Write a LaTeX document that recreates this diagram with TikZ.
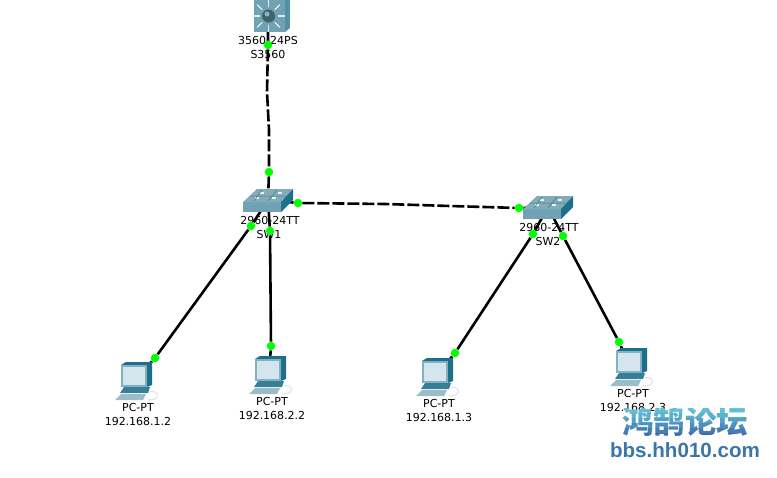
\documentclass[tikz,border=0pt]{standalone}
\usepackage{fontspec}
\setmainfont{DejaVu Sans}
\newfontfamily\wmlatin{Liberation Sans}[BoldFont={Liberation Sans Bold}]
\newfontfamily\wmcjk{Noto Sans CJK SC}
\usetikzlibrary{backgrounds}
\definecolor{lightgreen}{RGB}{0,255,0}
\definecolor{frontblue}{RGB}{112,162,180}
\definecolor{topblue}{RGB}{130,172,186}
\definecolor{sideblue}{RGB}{28,112,140}
\definecolor{screenblue}{RGB}{213,229,238}
\definecolor{wmtop}{RGB}{98,190,212}
\definecolor{wmbot}{RGB}{62,104,168}
\definecolor{wmsite}{RGB}{58,118,168}
\tikzset{
    devnode/.style={inner sep=0pt,minimum size=1pt},
    tag/.style={inner sep=0pt,font=\fontsize{11}{13}\selectfont},
    port/.style={fill=lightgreen,inner sep=0pt,minimum size=8.5pt,circle},
    link/.style={line width=2.6pt,black},
    trunk/.style={link,dash pattern=on 12pt off 3pt}
}
\newcommand{\switchicon}{%
    \fill[frontblue] (243,202) rectangle (281,212);
    \fill[topblue] (243,202)--(257,189)--(293,189)--(281,202)--cycle;
    \fill[sideblue] (281,202)--(293,189)--(293,200)--(281,212)--cycle;
    \foreach \a/\b in {260/193,278/193,255/198,272/198}{\draw[white!85!topblue,line width=1.2pt] (\a,\b)--++(4,0);}
    \draw[frontblue!70!black,line width=.5pt] (262,190)--(254,201) (277,190)--(268,201) (250,196)--(287,196);
}
\newcommand{\coreicon}{%
    \fill[frontblue] (254,0) rectangle (285,32);
    \fill[sideblue!35!frontblue] (285,0) rectangle (290,28);
    \fill[sideblue!35!frontblue] (285,32)--(290,28)--(285,28)--cycle;
    \foreach \a in {0,45,...,315}{\draw[white!80!frontblue,line width=1.4pt] (268.5,16)++(\a:9)--++(\a:7);}
    \fill[frontblue!60!black] (268.5,16) circle (6.5);
    \fill[frontblue!80!white] (267,14) circle (2.5);
}
\newcommand{\pcicon}{%
    \fill[sideblue] (-14,-15)--(-9,-18)--(17,-18)--(17,5)--(12,7)--(12,-15)--cycle;
    \fill[frontblue!85!white] (-14,-15) rectangle (12,7);
    \fill[screenblue] (-12,-13) rectangle (10,5);
    \fill[sideblue!70!frontblue] (-11,7)--(15,7)--(13,13)--(-15,13)--cycle;
    \fill[topblue!80!white] (-14,14)--(11,14)--(8,20)--(-20,20)--cycle;
    \draw[white!70!frontblue,line width=1pt] (15,12)..controls (22,10) and (25,16) .. (20,19)--(13,20);
}
\begin{document}
\begin{tikzpicture}[x=1pt,y=-1pt]
\useasboundingbox (0,0) rectangle (777,477);
% devices
\node[devnode] (core) at (268,16) {};
\node[devnode] (sw1) at (268,200) {};
\node[devnode] (sw2) at (548,207) {};
\node[devnode] (pc1) at (135,380) {};
\node[devnode] (pc2) at (269,374) {};
\node[devnode] (pc3) at (436,376) {};
\node[devnode] (pc4) at (630,366) {};
\coordinate (bendA) at (267,92);
\coordinate (bendB) at (269,130);
\coordinate (bendC) at (385,204);
\coordinate (bendD) at (450,206);
\coreicon
\switchicon
\begin{scope}[shift={(280,7)}]
    \switchicon
\end{scope}
\foreach \n in {pc1,pc2,pc3,pc4}{
    \begin{scope}[shift={(\n)}]
        \pcicon
    \end{scope}
}
% lights
\foreach \n/\x/\y in {la/268/45,lb/269/172,lc/298/203,ld/519/208,le/251/226,lf/155/358,lg/270/231,lh/271/346,li/533/234,lj/455/353,lk/563/236,ll/619/342}{
    \node[port] (\n) at (\x,\y) {};
}
\begin{scope}[on background layer]
    \node[tag] (coreA) at (268,40) {3560-24PS};
    \node[tag] (coreB) at (268,54) {S3560};
    \node[tag] (swA) at (270,220) {2960-24TT};
    \node[tag] (swB) at (269,234) {SW1};
    \node[tag] (swC) at (549,227) {2960-24TT};
    \node[tag] (swD) at (548,241) {SW2};
    \node[tag] (pcA) at (138,407) {PC-PT};
    \node[tag] (pcB) at (138,421) {192.168.1.2};
    \node[tag] (pcC) at (272,401) {PC-PT};
    \node[tag] (pcD) at (272,415) {192.168.2.2};
    \node[tag] (pcE) at (439,403) {PC-PT};
    \node[tag] (pcF) at (439,417) {192.168.1.3};
    \node[tag] (pcG) at (633,393) {PC-PT};
    \node[tag] (pcH) at (633,407) {192.168.2.3};
    \draw[trunk] (core)--(la)--(bendA)--(bendB)--(lb)--(sw1);
    \draw[trunk] (sw1)--(lc)--(bendC)--(bendD)--(ld)--(sw2);
    \draw[link] (sw1)--(le)--(lf)--(pc1);
    \draw[link] (sw1)--(lg)--(lh)--(pc2);
    \draw[link] (sw2)--(li)--(lj)--(pc3);
    \draw[link] (sw2)--(lk)--(ll)--(pc4);
\end{scope}
% watermark
\fill[white,opacity=.65] (622,411) rectangle (750,437);
\foreach \y/\p in {408/100,413/85,418/65,423/45,428/25,433/5}{
    \begin{scope}
        \clip (610,\y) rectangle (760,\y+5);
        \node[inner sep=0pt,wmtop!\p!wmbot,font=\wmcjk\bfseries\fontsize{31.5}{32}\selectfont] (wm\y) at (685,421) {鸿鹄论坛};
    \end{scope}
}
\node[inner sep=0pt,wmsite,font=\wmlatin\bfseries\fontsize{20.6}{22}\selectfont] (wmsite) at (685,450) {bbs.hh010.com};
\end{tikzpicture}
\end{document}
